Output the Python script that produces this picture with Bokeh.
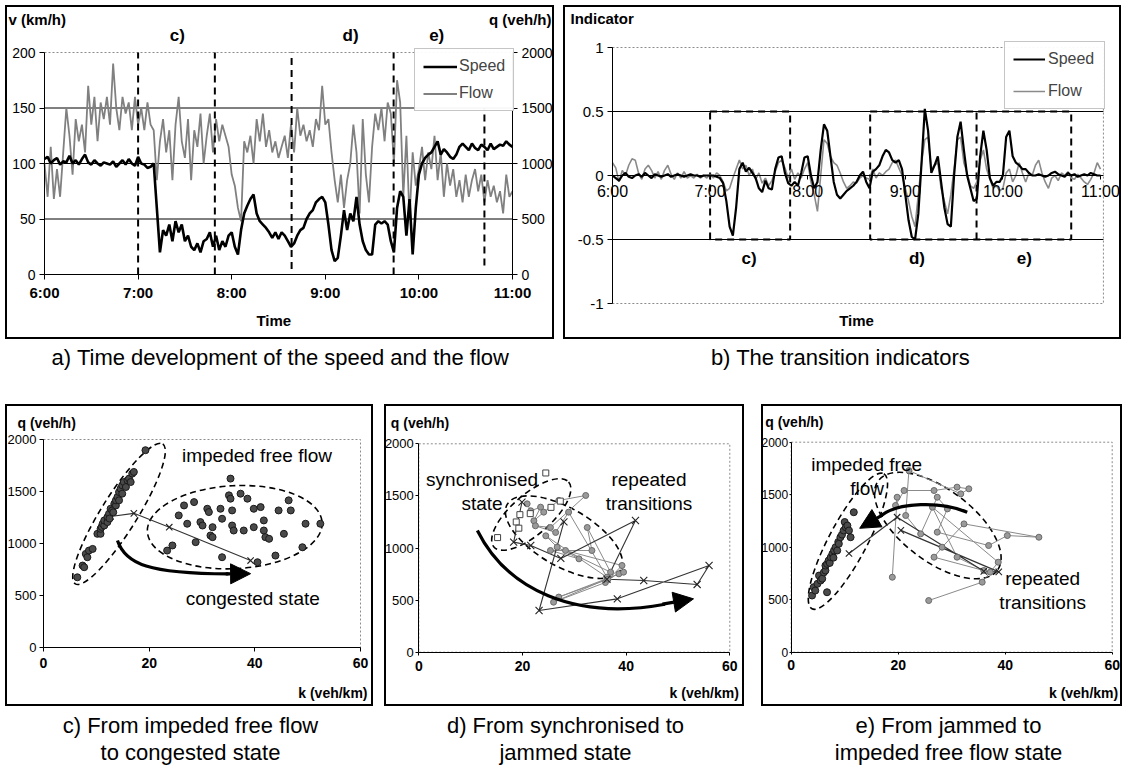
from bokeh.plotting import figure
from bokeh.layouts import column, row
from bokeh.models import (Range1d, LinearAxis, FixedTicker, Label, Arrow, NormalHead,
                          Spacer, Legend, LegendItem)
from bokeh.embed import file_html
from bokeh.resources import INLINE
from bokeh.core.properties import value

FONT = "Liberation Sans"

# ---------------- data ----------------
minutes = list(range(0, 302, 2))          # minutes after 6:00
hour_ticks = [6, 7, 8, 9, 10, 11]
hour_labels = ["6:00", "7:00", "8:00", "9:00", "10:00", "11:00"]
period_bounds = [7.0, 7.82, 8.64, 9.73, 10.70]
period_names = ["c)", "d)", "e)"]

speed = [104, 106, 100, 103, 105, 99, 102, 101, 107, 100,
         103, 99, 104, 108, 101, 99, 103, 100, 98, 101,
         100, 99, 102, 97, 100, 103, 99, 104, 100, 98,
         106, 100, 99, 96, 97, 100, 60, 20, 40, 35,
         45, 30, 48, 38, 45, 30, 35, 25, 22, 28,
         20, 30, 32, 38, 25, 35, 22, 30, 25, 35,
         38, 25, 18, 40, 55, 62, 68, 72, 55, 48,
         45, 42, 38, 33, 38, 32, 38, 35, 30, 25,
         28, 35, 40, 42, 50, 55, 58, 65, 68, 70,
         65, 45, 22, 12, 15, 35, 58, 40, 55, 48,
         70, 45, 30, 22, 18, 18, 45, 48, 46, 48,
         45, 30, 20, 60, 75, 70, 35, 68, 18, 60,
         90, 100, 105, 108, 110, 115, 120, 108, 113, 110,
         106, 104, 108, 115, 118, 115, 112, 118, 114, 112,
         117, 115, 112, 118, 113, 115, 117, 116, 120, 117,
         115]
flow = [1000, 700, 1150, 680, 950, 700, 1100, 1500, 1250, 900,
        1400, 1200, 1350, 1100, 1700, 1350, 1600, 1200, 1550, 1400,
        1600, 1350, 1900, 1500, 1300, 1600, 1450, 1550, 1300, 1600,
        1350, 1500, 1300, 1550, 1350, 1300, 850, 1200, 1400, 1100,
        1300, 850, 1350, 1600, 1200, 1050, 1400, 850, 1300, 1150,
        1450, 1000, 1250, 1450, 1100, 1400, 1200, 1350, 1250, 1150,
        900, 800, 600, 480, 1200, 1100, 1250, 1000, 1400, 1200,
        1450, 1150, 1300, 1100, 1200, 1050, 1150, 1250, 1050, 1350,
        1100, 1500, 1250, 1350, 1200, 1300, 1150, 1400, 1300, 1700,
        1350, 1400, 1100, 850, 650, 900, 600, 850, 1000, 1350,
        1100, 550, 1400, 900, 650, 1150, 1450, 1300, 1500, 1200,
        1550, 1450, 1000, 1750, 1550, 700, 1250, 500, 1100, 800,
        950, 1150, 850, 1100, 950, 1250, 850, 1100, 700, 1000,
        800, 950, 700, 850, 650, 900, 700, 850, 950, 750,
        900, 650, 850, 700, 800, 650, 750, 550, 900, 700,
        750]
ind_speed = [0.00, -0.02, -0.04, 0.00, 0.02, -0.01, -0.02, 0.00, 0.01, -0.01,
             0.02, 0.00, -0.02, 0.01, 0.00, -0.01, 0.00, 0.01, -0.01, 0.00,
             0.01, 0.00, -0.01, 0.00, 0.01, 0.00, 0.00, -0.01, 0.00, 0.00,
             0.00, 0.00, -0.01, -0.02, -0.06, -0.20, -0.40, -0.47, -0.25, 0.05,
             0.10, 0.03, 0.06, 0.02, -0.02, -0.10, -0.13, -0.04, -0.10, -0.11,
             0.05, 0.14, 0.15, 0.02, -0.06, -0.08, -0.05, -0.08, 0.02, 0.14,
             0.15, 0.00, -0.10, -0.05, 0.20, 0.40, 0.35, 0.15, -0.05, -0.15,
             -0.18, -0.15, -0.12, -0.10, -0.08, -0.05, 0.00, 0.03, -0.05, -0.10,
             0.03, 0.05, 0.08, 0.15, 0.20, 0.18, 0.12, 0.10, 0.12, 0.05,
             -0.15, -0.35, -0.48, -0.50, -0.30, 0.10, 0.52, 0.35, 0.02, 0.08,
             0.15, -0.05, -0.25, -0.38, -0.40, 0.00, 0.30, 0.42, 0.20, 0.00,
             -0.10, -0.20, -0.18, 0.15, 0.35, 0.20, -0.02, -0.08, -0.05, -0.05,
             0.00, 0.30, 0.35, 0.15, 0.10, 0.08, 0.05, 0.05, 0.02, 0.00,
             0.00, 0.01, 0.00, -0.01, 0.00, 0.02, 0.03, 0.01, 0.00, -0.01,
             0.02, 0.00, 0.01, -0.01, 0.00, 0.01, 0.00, 0.02, 0.01, 0.00,
             0.00]
ind_flow = [0.10, 0.06, -0.05, 0.04, 0.00, 0.08, 0.13, 0.12, 0.02, -0.03,
            0.05, 0.08, 0.04, -0.02, 0.03, -0.03, 0.04, 0.08, 0.01, -0.03,
            0.02, -0.02, 0.03, -0.02, 0.00, -0.02, 0.01, -0.02, 0.00, -0.02,
            0.01, -0.02, 0.02, 0.00, -0.05, -0.12, -0.10, -0.02, 0.05, 0.12,
            0.05, 0.08, 0.00, 0.05, -0.03, 0.02, -0.06, -0.02, -0.08, -0.04,
            0.03, 0.10, 0.12, 0.06, -0.02, 0.05, -0.03, 0.02, -0.02, 0.05,
            0.10, -0.05, -0.15, -0.28, 0.00, 0.28, 0.25, 0.15, 0.10, 0.08,
            0.02, -0.05, -0.10, -0.08, -0.05, -0.06, -0.02, 0.00, -0.02, -0.03,
            0.05, -0.02, 0.02, 0.00, 0.03, 0.05, 0.10, 0.12, 0.06, 0.00,
            -0.10, -0.20, -0.32, -0.40, -0.15, 0.10, 0.28, 0.30, 0.05, 0.08,
            0.10, -0.10, -0.20, -0.30, -0.15, 0.05, 0.28, 0.30, 0.10, 0.02,
            -0.08, -0.10, -0.05, 0.12, 0.20, 0.05, -0.03, -0.10, -0.08, -0.12,
            -0.10, 0.02, 0.05, -0.05, 0.00, 0.10, 0.02, -0.05, 0.02, 0.00,
            0.08, 0.12, 0.02, -0.05, -0.10, -0.02, 0.00, -0.04, 0.02, 0.00,
            0.03, -0.02, -0.03, 0.01, -0.02, -0.05, -0.07, -0.03, 0.02, 0.10,
            0.05]
ind_ticks = [-1, -0.5, 0, 0.5, 1]
ind_labels = ["-1", "-0.5", "0", "0.5", "1"]
v_ticks = [0, 50, 100, 150, 200]
k_ticks = [0, 20, 40, 60]
q_ticks = [0, 500, 1000, 1500, 2000]

# c) impeded free flow -> congested
c_free_k = [6.4, 7.4, 7.7, 8.0, 8.3, 8.6, 9.3, 10.2, 10.8, 10.8, 11.0, 11.2, 11.5, 11.5, 12.1, 12.1,
            12.4, 12.5, 12.7, 13.0, 13.2, 13.4, 13.7, 13.7, 14.0, 14.3, 14.3, 14.6, 14.9, 14.9,
            15.2, 15.6, 15.9, 16.2, 16.5, 16.8, 17.1, 19.3]
c_free_q = [675, 788, 772, 900, 868, 932, 948, 1093, 1093, 1141, 1160, 1190, 1173, 1222, 1206, 1254,
            1286, 1240, 1334, 1318, 1300, 1382, 1366, 1415, 1447, 1415, 1495, 1527, 1479, 1559,
            1591, 1543, 1607, 1624, 1591, 1672, 1688, 1897]
c_cong_k = [35.4, 35.1, 35.4, 37.3, 38.6, 28.5, 31.0, 31.3, 33.5, 35.7, 39.8, 41.1, 46.4, 44.5,
            46.8, 26.6, 25.6, 27.2, 29.7, 30.1, 32.0, 33.8, 35.7, 36.0, 37.9, 39.8, 41.7, 41.7,
            42.0, 42.7, 45.5, 49.6, 52.4, 49.0, 43.9, 31.6, 32.0, 28.8, 24.4, 23.4, 33.8, 40.5]
c_cong_q = [1624, 1463, 1431, 1479, 1431, 1398, 1334, 1302, 1334, 1318, 1334, 1350, 1415, 1318,
            1318, 1366, 1270, 1190, 1206, 1173, 1157, 1238, 1173, 1125, 1125, 1157, 1222, 1125,
            1061, 1045, 1093, 1190, 1190, 964, 884, 1077, 1061, 1013, 981, 932, 868, 820]
c_path_k = [12.7, 17.1, 23.8, 39.2]
c_path_q = [1260, 1290, 1157, 836]

# d) synchronised -> jammed
d_sync_k = [24.5, 25.5, 27.3, 19.5, 18.8, 19.3, 15.2, 21.5]
d_sync_q = [1720, 1390, 1450, 1320, 1250, 1190, 1100, 1330]
d_rep_k = [20.9, 21.6, 23.5, 22.2, 24.1, 27.0, 32.2, 25.4, 22.5, 26.4, 28.9, 36.3, 24.5, 26.7,
           30.9, 25.4, 33.4, 32.5, 37.0, 28.3, 39.2, 36.0, 26.0, 38.6, 39.5, 27.0, 36.5]
d_rep_q = [1424, 1357, 1392, 1261, 1344, 1456, 1504, 1197, 1213, 1149, 1344, 720, 1117, 1008,
           896, 976, 976, 1197, 768, 976, 832, 669, 480, 752, 768, 529, 700]
d_trans_k = [19.9, 18.3, 21.6, 27.4, 41.8, 36.3, 43.4, 53.7, 56.0, 38.3, 23.2, 28.0]
d_trans_q = [1440, 1056, 1024, 900, 1264, 700, 688, 650, 832, 512, 400, 1250]

# e) jammed -> impeded free flow
e_free_k = [3.9, 4.2, 4.5, 4.9, 5.2, 5.5, 5.8, 6.1, 6.4, 6.4, 6.7, 6.7, 7.0, 7.2, 7.4, 7.7, 7.9,
            8.0, 8.3, 8.6, 8.8, 8.9, 9.2, 9.5, 9.8, 10.0, 10.2, 10.5, 10.8, 11.1, 11.7]
e_free_q = [540, 619, 587, 651, 730, 683, 700, 760, 778, 825, 841, 571, 873, 850, 905, 937, 900,
            968, 1000, 968, 1050, 1032, 1095, 1120, 1159, 1240, 1190, 1206, 1159, 1095, 1333]
e_rep_k = [18.9, 19.8, 19.5, 21.1, 26.7, 31.0, 33.2, 31.7, 22.0, 21.4, 24.2, 27.3, 29.2, 27.3,
           36.9, 40.4, 46.3, 32.3, 28.2, 26.7, 36.0, 31.0, 26.4, 38.7, 37.2, 35.7, 25.7]
e_rep_q = [714, 1476, 1397, 1540, 1540, 1572, 1556, 1508, 1730, 1302, 1127, 1476, 1365, 1143,
           1016, 1111, 1095, 1222, 1000, 905, 778, 905, 1381, 857, 762, 667, 492]
e_trans_k = [10.8, 19.8, 36.0, 38.8, 20.5]
e_trans_q = [940, 1286, 770, 765, 1160]

time_h = [6 + m / 60 for m in minutes]


# ---------------- helpers ----------------
def span_range(d_lo, d_hi, px_lo, px_hi, c_lo, c_hi):
    """Range whose ends fall on canvas pixels c_lo/c_hi, given data d_lo at px_lo and d_hi at px_hi."""
    s = (d_hi - d_lo) / (px_hi - px_lo)
    return Range1d(start=d_lo + (c_lo - px_lo) * s, end=d_lo + (c_hi - px_lo) * s)


def panel(w, h, xr, yr):
    p = figure(width=w, height=h, x_range=xr, y_range=yr, output_backend="svg",
               toolbar_location=None, min_border=0)
    p.grid.visible = False
    p.outline_line_color = "black"
    p.outline_line_width = 3
    p.background_fill_color = "white"
    return p


def style_axis(ax, size, bold=False, tick_out=5, standoff=4):
    ax.major_label_text_font = FONT
    ax.major_label_text_font_size = size
    ax.major_label_text_font_style = "bold" if bold else "normal"
    ax.major_label_text_color = "black"
    ax.minor_tick_line_color = None
    ax.major_tick_in = 0
    ax.major_tick_out = tick_out
    ax.major_label_standoff = standoff
    ax.axis_line_color = "black"
    ax.major_tick_line_color = "black"


def label(p, x, y, text, dx=0, dy=0, size="15px", bold=True, align="left", base="middle"):
    p.add_layout(Label(x=x, y=y, x_offset=dx, y_offset=dy, text=text, text_font=FONT,
                       text_font_size=size, text_font_style="bold" if bold else "normal",
                       text_align=align, text_baseline=base, text_color="black"))


def plot_area(p, x0, x1, y0, y1):
    p.quad(left=[x0], right=[x1], bottom=[y0], top=[y1], fill_color=None,
           line_color="#8c8c8c", line_width=1, line_dash="2 2")


# ---------------- panel a ----------------
pa = panel(549, 334, span_range(6, 11, 44, 512, 5, 554), span_range(0, 200, 274, 52, 339, 5))
pa.extra_y_ranges = {"flow": span_range(0, 2000, 274, 52, 339, 5)}
plot_area(pa, 6, 11, 0, 200)
pa.segment(x0=[6, 6, 6], y0=v_ticks[1:4], x1=[11, 11, 11], y1=v_ticks[1:4],
           line_color="black", line_width=1)
pa.xaxis.fixed_location = 0
pa.xaxis.bounds = (6, 11)
pa.xaxis.ticker = FixedTicker(ticks=hour_ticks)
pa.xaxis.major_label_overrides = dict(zip(hour_ticks, hour_labels))
pa.yaxis.fixed_location = 6
pa.yaxis.bounds = (0, 200)
pa.yaxis.ticker = FixedTicker(ticks=v_ticks)
ax_q = LinearAxis(y_range_name="flow", fixed_location=11, bounds=(0, 2000),
                  ticker=FixedTicker(ticks=q_ticks))
pa.add_layout(ax_q, "right")
style_axis(pa.xaxis[0], "15px", bold=True)
style_axis(pa.yaxis[0], "14px")
style_axis(ax_q, "14px")

rf = pa.line(time_h, flow, y_range_name="flow", line_color="#808080", line_width=1.8)
rs = pa.line(time_h, speed, line_color="black", line_width=2.6)
pa.segment(x0=period_bounds, y0=[0, 0, 5, 0, 8], x1=period_bounds, y1=[200, 200, 200, 200, 150],
           line_color="black", line_width=2, line_dash="7 5")
leg_a = Legend(items=[LegendItem(label="Speed", renderers=[rs]), LegendItem(label="Flow", renderers=[rf])],
               location=(409, 228), margin=0, padding=8, spacing=9, glyph_width=34,
               glyph_height=17, label_height=17, label_standoff=2, label_text_font=FONT,
               label_text_font_size="16px", border_line_color="#8c8c8c",
               background_fill_color="white")
pa.add_layout(leg_a)
label(pa, 6, 200, "v (km/h)", dx=-36, dy=33, size="15px")
label(pa, 11, 200, "q (veh/h)", dx=39, dy=33, size="15px", align="right")
label(pa, 8.45, 0, "Time", dy=-46, size="15px", align="center")
for nm, xx in zip(period_names, [7.42, 9.27, 10.19]):
    label(pa, xx, 200, nm, dy=17, size="17px", align="center")

# ---------------- panel b ----------------
pb = panel(558, 334, span_range(6, 11, 612, 1100, 563, 1121), span_range(-1, 1, 303, 47, 339, 5))
plot_area(pb, 6, 11.03, -1, 1)
pb.segment(x0=[6, 6], y0=[-0.5, 0.5], x1=[11.03, 11.03], y1=[-0.5, 0.5],
           line_color="black", line_width=1)
pb.xaxis.fixed_location = 0
pb.xaxis.bounds = (6, 11.03)
pb.xaxis.ticker = FixedTicker(ticks=hour_ticks)
pb.xaxis.major_label_overrides = dict(zip(hour_ticks, hour_labels))
pb.yaxis.fixed_location = 6
pb.yaxis.bounds = (-1, 1)
pb.yaxis.ticker = FixedTicker(ticks=ind_ticks)
pb.yaxis.major_label_overrides = dict(zip(ind_ticks, ind_labels))
style_axis(pb.xaxis[0], "16px", tick_out=4, standoff=3)
style_axis(pb.yaxis[0], "15px")
pb.quad(left=[period_bounds[0], period_bounds[2]], right=[period_bounds[1], period_bounds[4]],
        top=[0.5, 0.5], bottom=[-0.5, -0.5], fill_color=None, line_color="black",
        line_width=2, line_dash="7 5")
pb.segment(x0=[period_bounds[3]], y0=[-0.5], x1=[period_bounds[3]], y1=[0.5],
           line_color="black", line_width=2, line_dash="7 5")
rbf = pb.line(time_h, ind_flow, line_color="#8a8a8a", line_width=1.6)
rbs = pb.line(time_h, ind_speed, line_color="black", line_width=2.2)
leg_b = Legend(items=[LegendItem(label="Speed", renderers=[rbs]), LegendItem(label="Flow", renderers=[rbf])],
               location=(441, 230), margin=0, padding=8, spacing=14, glyph_width=32,
               glyph_height=16, label_height=16, label_width=48, label_standoff=3,
               label_text_font=FONT, label_text_font_size="16px",
               border_line_color="#8c8c8c", background_fill_color="white")
pb.add_layout(leg_b)
label(pb, 6, 1, "Indicator", dx=-42, dy=29, size="15px")
label(pb, 8.5, -1, "Time", dy=-17, size="15px", align="center")
for nm, xx in zip(period_names, [7.40, 9.12, 10.22]):
    label(pb, xx, -0.65, nm, size="17px", align="center")


# ---------------- scatter panels ----------------
def make_scatter(w, c_left, c_right, px0, px60, py0, py2000, fs="13px", tick_out=4, standoff=3):
    p = panel(w, 302, span_range(0, 60, px0, px60, c_left, c_right),
              span_range(0, 2000, py0, py2000, 706, 404))
    plot_area(p, 0, 60, 0, 2000)
    p.xaxis.fixed_location = 0
    p.xaxis.bounds = (0, 60)
    p.yaxis.fixed_location = 0
    p.yaxis.bounds = (0, 2000)
    p.xaxis.ticker = FixedTicker(ticks=k_ticks)
    p.yaxis.ticker = FixedTicker(ticks=q_ticks)
    style_axis(p.xaxis[0], "14px", bold=True, tick_out=tick_out, standoff=6)
    style_axis(p.yaxis[0], fs, tick_out=tick_out, standoff=standoff)
    return p


def ellipses(p, xs, ys, ws, hs, angs):
    p.ellipse(x=xs, y=ys, width=ws, height=hs, angle=angs, width_units="screen",
              height_units="screen", angle_units="deg", fill_color=None,
              line_color="black", line_width=1.6, line_dash="6 4")


def curved_arrow(p, x0, y0, cx0, cy0, cx1, cy1, x1, y1, ax0, ay0, ax1, ay1):
    p.bezier(x0=[x0], y0=[y0], x1=[x1], y1=[y1], cx0=[cx0], cy0=[cy0], cx1=[cx1], cy1=[cy1],
             line_color="black", line_width=3.2)
    p.add_layout(Arrow(end=NormalHead(size=20, fill_color="black", line_color="black"),
                       x_start=ax0, y_start=ay0, x_end=ax1, y_end=ay1,
                       line_color="black", line_width=3.2))


def ptext(p, xs, ys, texts):
    p.text(x=xs, y=ys, text=texts, text_font=value(FONT), text_font_size="19px",
           text_align="center", text_baseline="middle", text_color="black")


# c
pc = make_scatter(368, 5, 373, 43, 360, 647, 439)
ellipses(pc, [14.3, 36.2], [1285, 1157], [165, 175], [36, 83], [58, 3])
pc.line(c_path_k, c_path_q, line_color="#333333", line_width=1.1)
pc.scatter(c_path_k, c_path_q, marker="x", size=9, line_color="#222222", line_width=1.1)
pc.scatter(c_free_k, c_free_q, marker="circle", size=7, fill_color="#4a4a4a", line_color="#1a1a1a")
pc.scatter(c_cong_k, c_cong_q, marker="circle", size=7, fill_color="#4a4a4a", line_color="#1a1a1a")
curved_arrow(pc, 14.0, 1030, 15.5, 800, 20, 712, 35, 708, 34.5, 708, 39.2, 710)
ptext(pc, [40.4, 39.6], [1846, 471], ["impeded free flow", "congested state"])
label(pc, 0, 2000, "q (veh/h)", dx=-26, dy=17, size="14px")
label(pc, 60, 0, "k (veh/km)", dx=7, dy=-45, size="14px", align="right")

# d
pd = make_scatter(360, 384, 744, 418.3, 729.3, 651.7, 443.3, tick_out=3, standoff=2)
ellipses(pd, [21.7, 28.0], [1322, 1104], [99, 131], [40, 58], [41, -30])
pd.line(d_rep_k, d_rep_q, line_color="#8a8a8a", line_width=1)
pd.line(d_trans_k, d_trans_q, line_color="#333333", line_width=1.1)
pd.scatter(d_rep_k, d_rep_q, marker="circle", size=6, fill_color="#9a9a9a", line_color="#6a6a6a")
pd.scatter(d_trans_k, d_trans_q, marker="x", size=10, line_color="#222222", line_width=1.1)
pd.scatter(d_sync_k, d_sync_q, marker="square", size=6, fill_color="white", line_color="#444444")
curved_arrow(pd, 11.3, 1168, 17, 600, 30, 300, 47.5, 460, 47, 462, 53, 512)
ptext(pd, [12.2, 12.2, 44.4, 44.4], [1658, 1428, 1658, 1428],
      ["synchronised", "state", "repeated", "transitions"])
label(pd, 0, 2000, "q (veh/h)", dx=-28, dy=21, size="14px")
label(pd, 60, 0, "k (veh/km)", dx=9, dy=-41, size="14px", align="right")

# e
pe = make_scatter(361, 761, 1122, 790.7, 1111.7, 651.7, 441.7, fs="12px", tick_out=2, standoff=1)
ellipses(pe, [10.6, 27.4], [1057, 1206], [153, 149], [38, 72], [62, -37])
pe.line(e_rep_k, e_rep_q, line_color="#8a8a8a", line_width=1)
pe.line(e_trans_k, e_trans_q, line_color="#333333", line_width=1.2)
pe.scatter(e_rep_k, e_rep_q, marker="circle", size=6, fill_color="#9a9a9a", line_color="#6a6a6a")
pe.scatter(e_trans_k, e_trans_q, marker="x", size=9, line_color="#222222", line_width=1.1)
pe.scatter(e_free_k, e_free_q, marker="circle", size=7, fill_color="#4a4a4a", line_color="#1a1a1a")
curved_arrow(pe, 32.9, 1333, 28, 1440, 20, 1430, 16.8, 1300, 17.0, 1305, 12.8, 1180)
ptext(pe, [14.1, 14.2, 47.0, 47.0], [1787, 1558, 702, 473],
      ["impeded free", "flow", "repeated", "transitions"])
label(pe, 0, 2000, "q (veh/h)", dx=-26, dy=20, size="14px")
label(pe, 60, 0, "k (veh/km)", dx=6, dy=-41, size="14px", align="right")


# ---------------- captions ----------------
def text_fig(w, h, xs, ys, texts):
    f = figure(width=w, height=h, x_range=Range1d(0, w), y_range=Range1d(h, 0),
               x_axis_type=None, y_axis_type=None, output_backend="svg",
               toolbar_location=None, min_border=0)
    f.grid.visible = False
    f.outline_line_color = None
    f.text(x=xs, y=ys, text=texts, text_font=value(FONT), text_font_size="22px",
           text_align="center", text_baseline="middle", text_color="black")
    return f


cap_top = text_fig(1123, 65, [280, 840], [18, 18],
                   ["a) Time development of the speed and the flow", "b) The transition indicators"])
cap_bot = text_fig(1123, 60, [190, 190, 565, 565, 948, 948], [19, 46, 19, 46, 19, 46],
                   ["c) From impeded free flow", "to congested state",
                    "d) From synchronised to", "jammed state",
                    "e) From jammed to", "impeded free flow state"])

top_row = row(Spacer(width=5, height=334), pa, Spacer(width=9, height=334), pb)
bot_row = row(Spacer(width=5, height=302), pc, Spacer(width=11, height=302), pd,
              Spacer(width=17, height=302), pe)
layout = column(Spacer(width=1123, height=5), top_row, cap_top, bot_row, cap_bot)

open("out.html", "w").write(file_html(layout, INLINE))
